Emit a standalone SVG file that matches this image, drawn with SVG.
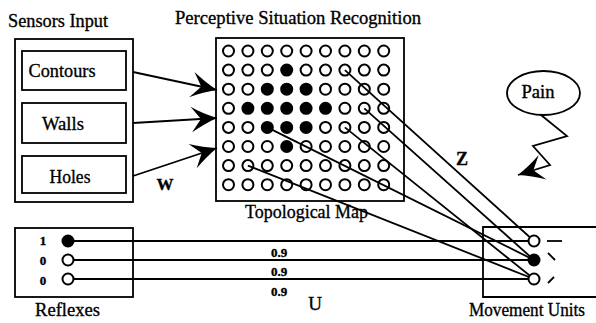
<svg xmlns="http://www.w3.org/2000/svg" width="596" height="323" viewBox="0 0 596 323">
<style>
  .box{fill:none;stroke:#000;stroke-width:1.8}
  .ln{fill:none;stroke:#000;stroke-width:1.8}
  .t{font-family:"Liberation Serif","Times New Roman",serif;fill:#000;stroke:#000;stroke-width:0.35}
  .o{fill:#fff;stroke:#000;stroke-width:2}
  .f{fill:#000;stroke:#000;stroke-width:2}
</style>
<defs>
  <marker id="arr" markerUnits="userSpaceOnUse" markerWidth="30" markerHeight="30" viewBox="-26 -13 28 26" refX="0" refY="0" orient="auto">
    <path d="M0,0 C-8,-3 -16,-7 -24,-12 L-15,0 L-24,12 C-16,7 -8,3 0,0 Z" fill="#000"/>
  </marker>
  <circle id="oc" r="5.5" class="o"/>
  <circle id="fc" r="5.5" class="f"/>
</defs>

<!-- Titles -->
<text class="t" x="8" y="27" font-size="19.5" textLength="100" lengthAdjust="spacingAndGlyphs">Sensors Input</text>
<text class="t" x="175" y="24" font-size="19.5" textLength="246" lengthAdjust="spacingAndGlyphs">Perceptive Situation Recognition</text>

<!-- Sensors -->
<g id="sensors">
  <rect class="box" x="15" y="39" width="118" height="163"/>
  <g id="contours">
    <rect class="box" x="22" y="51" width="104" height="39"/>
    <text class="t" x="62" y="77" font-size="19.5" text-anchor="middle" textLength="67" lengthAdjust="spacingAndGlyphs">Contours</text>
  </g>
  <g id="walls">
    <rect class="box" x="22" y="103" width="104" height="40"/>
    <text class="t" x="63" y="130" font-size="19.5" text-anchor="middle" textLength="42" lengthAdjust="spacingAndGlyphs">Walls</text>
  </g>
  <g id="holes">
    <rect class="box" x="22" y="156" width="104" height="37"/>
    <text class="t" x="70" y="183" font-size="19.5" text-anchor="middle" textLength="41" lengthAdjust="spacingAndGlyphs">Holes</text>
  </g>
</g>

<!-- Topological map -->
<g id="map">
  <rect class="box" x="216" y="38" width="188" height="163"/>
  <g id="grid">
    <use href="#oc" x="228.5" y="51"/><use href="#oc" x="247.9" y="51"/><use href="#oc" x="267.3" y="51"/><use href="#oc" x="286.7" y="51"/><use href="#oc" x="306.1" y="51"/><use href="#oc" x="325.5" y="51"/><use href="#oc" x="344.9" y="51"/><use href="#oc" x="364.3" y="51"/><use href="#oc" x="383.7" y="51"/>
    <use href="#oc" x="228.5" y="70.1"/><use href="#oc" x="247.9" y="70.1"/><use href="#oc" x="267.3" y="70.1"/><use href="#fc" x="286.7" y="70.1"/><use href="#oc" x="306.1" y="70.1"/><use href="#oc" x="325.5" y="70.1"/><use href="#oc" x="344.9" y="70.1"/><use href="#oc" x="364.3" y="70.1"/><use href="#oc" x="383.7" y="70.1"/>
    <use href="#oc" x="228.5" y="89.2"/><use href="#oc" x="247.9" y="89.2"/><use href="#fc" x="267.3" y="89.2"/><use href="#fc" x="286.7" y="89.2"/><use href="#fc" x="306.1" y="89.2"/><use href="#oc" x="325.5" y="89.2"/><use href="#oc" x="344.9" y="89.2"/><use href="#oc" x="364.3" y="89.2"/><use href="#oc" x="383.7" y="89.2"/>
    <use href="#oc" x="228.5" y="108.3"/><use href="#fc" x="247.9" y="108.3"/><use href="#fc" x="267.3" y="108.3"/><use href="#fc" x="286.7" y="108.3"/><use href="#fc" x="306.1" y="108.3"/><use href="#fc" x="325.5" y="108.3"/><use href="#oc" x="344.9" y="108.3"/><use href="#oc" x="364.3" y="108.3"/><use href="#oc" x="383.7" y="108.3"/>
    <use href="#oc" x="228.5" y="127.4"/><use href="#oc" x="247.9" y="127.4"/><use href="#fc" x="267.3" y="127.4"/><use href="#fc" x="286.7" y="127.4"/><use href="#fc" x="306.1" y="127.4"/><use href="#oc" x="325.5" y="127.4"/><use href="#oc" x="344.9" y="127.4"/><use href="#oc" x="364.3" y="127.4"/><use href="#oc" x="383.7" y="127.4"/>
    <use href="#oc" x="228.5" y="146.5"/><use href="#oc" x="247.9" y="146.5"/><use href="#oc" x="267.3" y="146.5"/><use href="#fc" x="286.7" y="146.5"/><use href="#oc" x="306.1" y="146.5"/><use href="#oc" x="325.5" y="146.5"/><use href="#oc" x="344.9" y="146.5"/><use href="#oc" x="364.3" y="146.5"/><use href="#oc" x="383.7" y="146.5"/>
    <use href="#oc" x="228.5" y="165.6"/><use href="#oc" x="247.9" y="165.6"/><use href="#oc" x="267.3" y="165.6"/><use href="#oc" x="286.7" y="165.6"/><use href="#oc" x="306.1" y="165.6"/><use href="#oc" x="325.5" y="165.6"/><use href="#oc" x="344.9" y="165.6"/><use href="#oc" x="364.3" y="165.6"/><use href="#oc" x="383.7" y="165.6"/>
    <use href="#oc" x="228.5" y="184.7"/><use href="#oc" x="247.9" y="184.7"/><use href="#oc" x="267.3" y="184.7"/><use href="#oc" x="286.7" y="184.7"/><use href="#oc" x="306.1" y="184.7"/><use href="#oc" x="325.5" y="184.7"/><use href="#oc" x="344.9" y="184.7"/><use href="#oc" x="364.3" y="184.7"/><use href="#oc" x="383.7" y="184.7"/>
  </g>
  <text class="t" x="306.5" y="218" font-size="19" text-anchor="middle" textLength="123" lengthAdjust="spacingAndGlyphs">Topological Map</text>
</g>

<!-- Reflexes -->
<g id="reflexes">
  <rect class="box" x="15" y="228" width="118" height="69"/>
  <text class="t" x="43" y="245" font-size="13" font-weight="bold" text-anchor="middle">1</text>
  <text class="t" x="43" y="265" font-size="13" font-weight="bold" text-anchor="middle">0</text>
  <text class="t" x="43" y="285" font-size="13" font-weight="bold" text-anchor="middle">0</text>
  <text class="t" x="67.5" y="316" font-size="19" text-anchor="middle" textLength="65" lengthAdjust="spacingAndGlyphs">Reflexes</text>
</g>

<!-- Movement units -->
<g id="movement">
  <path class="box" d="M596,227 H483 V297 H596"/>
  <line class="ln" x1="547" y1="241" x2="562" y2="241"/>
  <line class="ln" x1="548" y1="253" x2="555" y2="260"/>
  <line class="ln" x1="548" y1="283" x2="554" y2="277"/>
  <text class="t" x="527" y="316" font-size="18.5" text-anchor="middle" textLength="116" lengthAdjust="spacingAndGlyphs">Movement Units</text>
</g>

<!-- Pain -->
<g id="pain">
  <ellipse class="box" cx="543.5" cy="93" rx="36.5" ry="22" fill="#fff"/>
  <text class="t" x="538" y="98" font-size="18" text-anchor="middle" textLength="33" lengthAdjust="spacingAndGlyphs">Pain</text>
</g>

<!-- Connectors -->
<g id="connectors">
  <line class="ln" x1="133" y1="72" x2="217" y2="90" marker-end="url(#arr)"/>
  <line class="ln" x1="133" y1="123" x2="217" y2="118" marker-end="url(#arr)"/>
  <line class="ln" x1="133" y1="176" x2="217" y2="148" marker-end="url(#arr)"/>
  <text class="t" x="165" y="190" font-size="17" font-weight="bold" text-anchor="middle">W</text>

  <line class="ln" x1="344.9" y1="70.1" x2="534" y2="241"/>
  <line class="ln" x1="364.3" y1="108.3" x2="534" y2="260"/>
  <line class="ln" x1="344.9" y1="127.4" x2="534" y2="279"/>
  <line class="ln" x1="267.3" y1="127.4" x2="534" y2="260"/>
  <line class="ln" x1="247.9" y1="165.6" x2="534" y2="279"/>
  <text class="t" x="462" y="165" font-size="18" font-weight="bold" text-anchor="middle">Z</text>

  <line class="ln" x1="68" y1="241" x2="534" y2="241"/>
  <line class="ln" x1="68" y1="260" x2="534" y2="260"/>
  <line class="ln" x1="68" y1="279" x2="534" y2="279"/>
  <text class="t" x="279" y="257" font-size="13" font-weight="bold" text-anchor="middle">0.9</text>
  <text class="t" x="279" y="276" font-size="13" font-weight="bold" text-anchor="middle">0.9</text>
  <text class="t" x="279" y="296" font-size="13" font-weight="bold" text-anchor="middle">0.9</text>
  <text class="t" x="315" y="310" font-size="19" text-anchor="middle">U</text>

  <polyline class="ln" points="541,115 567,136 533,146 550,165 518,175" marker-end="url(#arr)"/>
</g>

<g id="reflex-units">
  <use href="#fc" x="68" y="241"/>
  <use href="#oc" x="68" y="260"/>
  <use href="#oc" x="68" y="279"/>
</g>
<g id="movement-units">
  <use href="#oc" x="534" y="241"/>
  <use href="#fc" x="534" y="260"/>
  <use href="#oc" x="534" y="279"/>
</g>
</svg>
